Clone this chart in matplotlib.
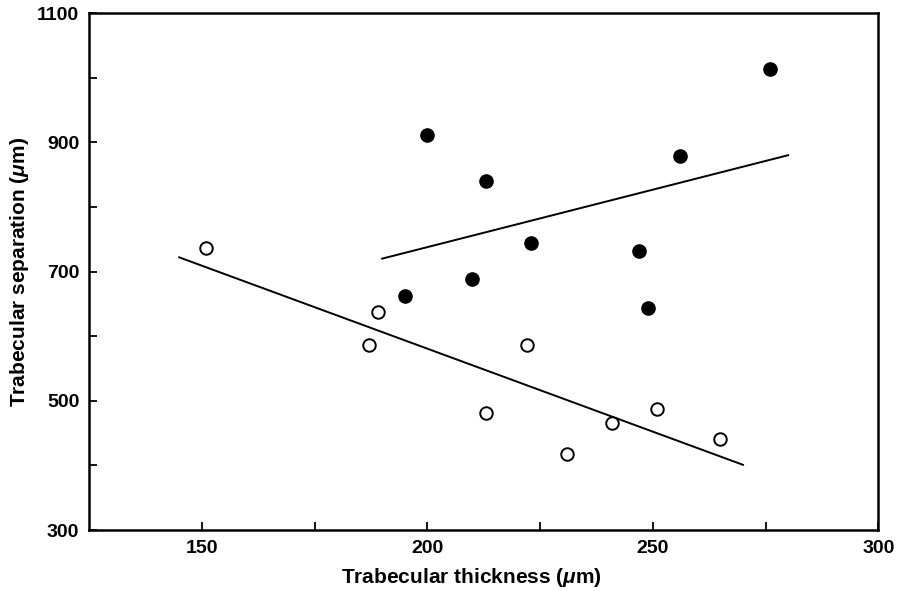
import matplotlib
matplotlib.use("Agg")
import matplotlib.pyplot as plt

# Data
filled_x = [200, 213, 223, 210, 195, 276, 256, 247, 249]
filled_y = [912, 840, 744, 689, 662, 1013, 879, 732, 643]
open_x = [151, 189, 187, 222, 213, 231, 241, 251, 265]
open_y = [736, 637, 586, 587, 481, 418, 466, 487, 441]
upper_line_x = [190, 280]
upper_line_y = [720, 880]
lower_line_x = [145, 270]
lower_line_y = [722, 401]

x_major = [150, 200, 250, 300]
x_minor = [175, 225, 275]
y_major = [300, 500, 700, 900, 1100]
y_minor = [400, 600, 800, 1000]

plt.rcParams['font.family'] = ['Liberation Sans', 'DejaVu Sans']
plt.rcParams['mathtext.fontset'] = 'custom'
plt.rcParams['mathtext.it'] = 'Liberation Sans:italic:bold'
plt.rcParams['mathtext.rm'] = 'Liberation Sans:bold'

fig = plt.figure(figsize=(8.99, 5.91), dpi=100)
ax = fig.add_axes([0.099, 0.103, 0.878, 0.875])

ax.plot(upper_line_x, upper_line_y, color='black', lw=1.4)
ax.plot(lower_line_x, lower_line_y, color='black', lw=1.4)
ax.plot(filled_x, filled_y, 'o', ms=9.5, color='black', mec='black')
ax.plot(open_x, open_y, 'o', ms=9, mfc='white', mec='black', mew=1.4)

ax.set_xlim(125, 300)
ax.set_ylim(300, 1100)
ax.set_xticks(x_major)
ax.set_xticks(x_minor, minor=True)
ax.set_yticks(y_major)
ax.set_yticks(y_minor, minor=True)
ax.tick_params(which='both', direction='in', length=6, width=1.3,
               labelsize=14, pad=7)
for lab in ax.get_xticklabels() + ax.get_yticklabels():
    lab.set_fontweight('bold')
for s in ax.spines.values():
    s.set_linewidth(1.8)

ax.set_xlabel(r'Trabecular thickness ($\mu$m)', fontsize=15,
              fontweight='bold')
ax.set_ylabel(r'Trabecular separation ($\mu$m)', fontsize=15,
              fontweight='bold')
ax.xaxis.set_label_coords(0.4845, -0.069)
ax.yaxis.set_label_coords(-0.074, 0.5)

fig.savefig('out.png', dpi=100)
